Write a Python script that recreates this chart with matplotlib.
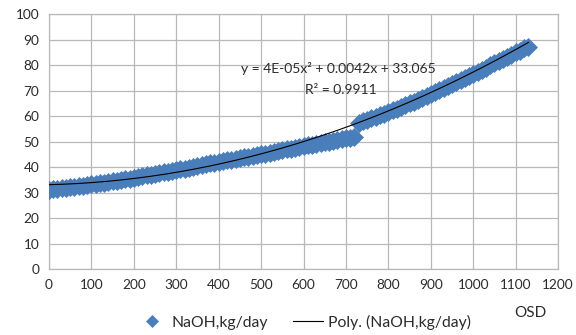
import matplotlib
matplotlib.use("Agg")
import matplotlib.pyplot as plt
import numpy as np

plt.rcParams['font.family'] = ['Lato', 'DejaVu Sans']

# Segment 1 (OSD 0..720)
x1 = [0, 10, 20, 30, 40, 50, 60, 70, 80, 90,
      100, 110, 120, 130, 140, 150, 160, 170, 180, 190,
      200, 210, 220, 230, 240, 250, 260, 270, 280, 290,
      300, 310, 320, 330, 340, 350, 360, 370, 380, 390,
      400, 410, 420, 430, 440, 450, 460, 470, 480, 490,
      500, 510, 520, 530, 540, 550, 560, 570, 580, 590,
      600, 610, 620, 630, 640, 650, 660, 670, 680, 690,
      700, 710, 720]
y1 = [31.0, 31.2, 31.4, 31.6, 31.9, 32.1, 32.3, 32.5, 32.7, 33.0,
      33.2, 33.4, 33.7, 33.9, 34.2, 34.4, 34.7, 35.0, 35.2, 35.5,
      35.8, 36.1, 36.4, 36.7, 37.0, 37.3, 37.6, 37.9, 38.2, 38.5,
      38.8, 39.1, 39.4, 39.7, 40.1, 40.4, 40.7, 41.0, 41.4, 41.7,
      42.0, 42.3, 42.6, 42.9, 43.2, 43.5, 43.8, 44.1, 44.4, 44.7,
      45.0, 45.3, 45.6, 45.9, 46.3, 46.6, 46.9, 47.2, 47.6, 47.9,
      48.2, 48.5, 48.8, 49.1, 49.4, 49.7, 50.0, 50.4, 50.7, 51.0,
      51.3, 51.5, 51.8]

# Segment 2 (OSD 730..1130)
x2 = [730, 740, 750, 760, 770, 780, 790, 800, 810, 820,
      830, 840, 850, 860, 870, 880, 890, 900, 910, 920,
      930, 940, 950, 960, 970, 980, 990, 1000, 1010, 1020,
      1030, 1040, 1050, 1060, 1070, 1080, 1090, 1100, 1110, 1120,
      1130]
y2 = [57.3, 57.9, 58.5, 59.1, 59.7, 60.3, 60.9, 61.5, 62.2, 62.9,
      63.6, 64.3, 65.0, 65.7, 66.4, 67.1, 67.8, 68.5, 69.3, 70.1,
      70.9, 71.7, 72.5, 73.3, 74.1, 74.9, 75.7, 76.5, 77.3, 78.2,
      79.0, 79.9, 80.7, 81.6, 82.4, 83.3, 84.1, 85.0, 85.7, 86.5,
      87.2]

# Trendline coefficients (as displayed)
coef = [4e-05, 0.0042, 33.065]
r2_text = "R² = 0.9911"
eq_text = "y = 4E-05x² + 0.0042x + 33.065"

xticks = list(range(0, 1201, 100))
yticks = list(range(0, 101, 10))

blue = '#4a7ebb'
grid_c = '#b8b8b8'
txt_c = '#2b2b2b'

fig = plt.figure(figsize=(5.76, 3.35), dpi=100)
ax = fig.add_axes([0.085, 0.197, 0.884, 0.761])

xs = np.array(x1 + x2)
ys = np.array(y1 + y2)
ax.plot(xs, ys, linestyle='none', marker='D', markersize=8.8,
        color=blue, markeredgewidth=0.5, markeredgecolor=blue, zorder=3,
        label='NaOH,kg/day')

xf = np.linspace(min(xs), max(xs), 300)
ax.plot(xf, np.polyval(coef, xf), color='black', lw=0.8, zorder=4,
        label='Poly. (NaOH,kg/day)')

ax.set_xlim(0, 1200)
ax.set_ylim(0, 100)
ax.set_xticks(xticks)
ax.set_yticks(yticks)
ax.grid(True, color=grid_c, lw=0.9)
ax.set_axisbelow(True)
for s in ax.spines.values():
    s.set_color(grid_c)
    s.set_linewidth(0.9)
ax.tick_params(length=0, labelsize=9.8, colors=txt_c, pad=7)

ax.text(683, 78.6, eq_text, ha='center', va='center', fontsize=10, color=txt_c, zorder=5)
ax.text(689, 70.4, r2_text, ha='center', va='center', fontsize=10, color=txt_c, zorder=5)

fig.text(530 / 576, 1 - 313 / 335, 'OSD', ha='center', va='center', fontsize=11, color=txt_c)

handles, labels = ax.get_legend_handles_labels()
leg = fig.legend(handles, labels, loc='center', bbox_to_anchor=(304 / 576, 1 - 322 / 335),
                 ncol=2, frameon=False, fontsize=11.3, handlelength=1.9,
                 handletextpad=0.3, columnspacing=1.6,
                 labelcolor=txt_c, markerscale=0.7)

fig.savefig('out.png', dpi=100)
